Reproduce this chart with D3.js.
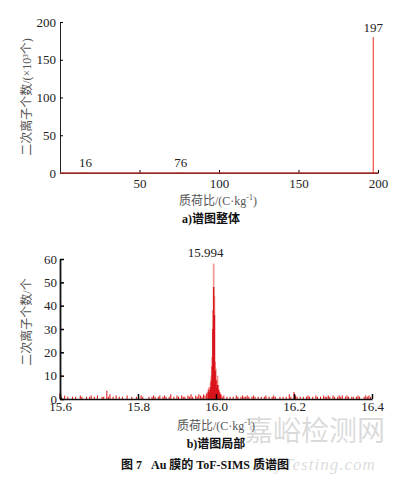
<html>
  <head>
    <style>
      body { margin: 0; background: #fff; }
      svg text { font-family: "Liberation Serif", "Noto Sans CJK SC", serif; }
      .tick text { font-size: 13px; fill: #222; }
      .lbl { font-size: 12px; fill: #555; }
      .cap { font-size: 12px; font-weight: bold; fill: #111; }
    </style>
  </head>
  <body>
    <svg></svg>
    <script src="https://d3js.org/d3.v7.min.js"></script>
    <script>
      let width = 397,
        height = 479;

      let svg = d3.select("svg").attr("width", width).attr("height", height);

      // chart a: whole spectrum
      let fullMz = [16, 76, 197];
      let fullCount = [1.2, 0.8, 180];
      let fullTicksX = [50, 100, 150, 200];
      let fullTicksY = [0, 50, 100, 150, 200];

      // chart b: local spectrum, noise bins every 0.004 from 15.6
      let noiseStart = 15.6,
        noiseStep = 0.004;
      let noiseCount = [
        2.5, 1, 0, 1.5, 0, 1, 0, 0, 1, 0, 1, 0, 0, 1.5, 1, 0, 0, 1, 0, 1,
        1.5, 0, 1, 0, 1.5, 0, 0, 1, 1, 0, 3.5, 1, 2, 0, 1, 0, 1.5, 0, 1, 0,
        1, 0, 0, 1.5, 0, 0, 1, 0, 0, 1, 0, 0, 1.5, 1, 0, 0, 0, 1, 0, 1,
        1.5, 1, 0, 1, 1.5, 0, 1, 1.5, 1, 0, 1, 2, 0, 1, 0, 1.5, 1, 0, 1.5, 1,
        1, 0, 1.5, 1, 2, 1, 0, 1.5, 1, 2, 1.5, 1, 2, 1.5, 2.5, 2, 3, 2, 1.5, 2,
        2, 1.5, 2, 1.5, 1, 1.5, 0, 1, 0, 1, 0, 1, 0, 1.5, 1, 0, 1, 1.5, 1, 1,
        1.5, 1, 0, 1, 1.5, 1, 0, 1, 0, 1, 0, 1, 1.5, 0, 1, 0, 1, 1.5, 1, 0,
        0, 1, 0, 1, 0, 1, 0, 2, 1, 0, 3, 1.5, 1, 0, 1, 0, 1, 0, 1, 1.5,
        1, 0, 1, 0, 1.5, 1, 0, 1, 0, 1.5, 1, 1, 1.5, 1, 0, 1.5, 1, 0, 1, 1.5,
        1, 1.5, 0, 1, 1.5, 1, 0, 1, 1, 0, 1, 1.5, 1, 0, 0, 1, 1.5, 1, 1.5, 1,
      ];
      let peakMz = [15.98, 15.982, 15.984, 15.986, 15.988, 15.99, 15.992, 15.994, 15.996,
        15.998, 16.0, 16.002, 16.004, 16.006, 16.008, 16.01, 16.012];
      let peakDark = [3, 4, 2, 5, 8, 14, 30, 48, 36, 12, 8, 5, 6, 4, 3, 2, 2];
      let peakLight = [4, 5, 3, 7, 10, 18, 38, 58, 44, 16, 13, 8, 10, 6, 4, 3, 2];
      let localTicksX = [15.6, 15.8, 16.0, 16.2, 16.4];
      let localTicksY = [0, 10, 20, 30, 40, 50, 60];

      // ---- chart a
      let xa = d3.scaleLinear().domain([0, 200]).range([60, 378]);
      let ya = d3.scaleLinear().domain([0, 200]).range([173, 22]);

      svg
        .append("g")
        .attr("transform", "translate(0,173)")
        .call(d3.axisBottom(xa).tickValues(fullTicksX).tickSizeInner(-3).tickSizeOuter(0).tickPadding(6))
        .call((g) => g.select(".domain").attr("stroke", "#222"));
      svg
        .append("g")
        .attr("transform", "translate(60,0)")
        .call(d3.axisLeft(ya).tickValues(fullTicksY).tickSizeInner(-3).tickSizeOuter(0).tickPadding(4))
        .call((g) => g.select(".domain").attr("stroke", "#222"));

      // baseline of spectrum
      svg
        .append("line")
        .attr("x1", xa(0))
        .attr("x2", xa(200))
        .attr("y1", ya(0))
        .attr("y2", ya(0))
        .attr("stroke", "#b0302a")
        .attr("stroke-width", 1.3);

      svg
        .append("g")
        .selectAll("line")
        .data(fullMz)
        .enter()
        .append("line")
        .attr("x1", (d) => xa(d))
        .attr("x2", (d) => xa(d))
        .attr("y1", ya(0))
        .attr("y2", (d, i) => ya(fullCount[i]))
        .attr("stroke", "#e8281e")
        .attr("stroke-width", 1);

      svg
        .append("g")
        .selectAll("text")
        .data(fullMz)
        .enter()
        .append("text")
        .attr("x", (d) => xa(d))
        .attr("y", (d, i) => ya(fullCount[i]) - 5)
        .attr("text-anchor", "middle")
        .attr("font-size", "13px")
        .attr("fill", "#222")
        .text((d) => d);

      svg
        .append("text")
        .attr("class", "lbl")
        .attr("transform", "translate(31,97) rotate(-90)")
        .attr("text-anchor", "middle")
        .text("二次离子个数/(×10³个)");
      svg
        .append("text")
        .attr("class", "lbl")
        .attr("x", 218)
        .attr("y", 205)
        .attr("text-anchor", "middle")
        .html('质荷比/(C·kg<tspan dy="-5" font-size="8px">-1</tspan><tspan dy="5">)</tspan>');
      svg
        .append("text")
        .attr("class", "cap")
        .attr("x", 211)
        .attr("y", 223)
        .attr("text-anchor", "middle")
        .text("a)谱图整体");

      // ---- chart b
      let xb = d3.scaleLinear().domain([15.6, 16.4]).range([60, 372]);
      let yb = d3.scaleLinear().domain([0, 60]).range([399, 259]);

      let noise = noiseCount.map((c, i) => ({ mz: noiseStart + i * noiseStep, c: c }));

      svg
        .append("g")
        .selectAll("line")
        .data(noise.filter((d) => d.c > 0))
        .enter()
        .append("line")
        .attr("x1", (d) => xb(d.mz))
        .attr("x2", (d) => xb(d.mz))
        .attr("y1", yb(0))
        .attr("y2", (d) => yb(d.c))
        .attr("stroke", "#e02020")
        .attr("stroke-width", 1.1);

      svg
        .append("g")
        .selectAll("line")
        .data(peakMz)
        .enter()
        .append("line")
        .attr("x1", (d) => xb(d))
        .attr("x2", (d) => xb(d))
        .attr("y1", yb(0))
        .attr("y2", (d, i) => yb(peakLight[i]))
        .attr("stroke", "rgba(235,80,70,0.6)")
        .attr("stroke-width", 1.6);
      svg
        .append("g")
        .selectAll("line")
        .data(peakMz)
        .enter()
        .append("line")
        .attr("x1", (d) => xb(d))
        .attr("x2", (d) => xb(d))
        .attr("y1", yb(0))
        .attr("y2", (d, i) => yb(peakDark[i]))
        .attr("stroke", "#d8141c")
        .attr("stroke-width", 1.4);

      svg
        .append("g")
        .attr("transform", "translate(0,399)")
        .call(d3.axisBottom(xb).tickValues(localTicksX).tickFormat(d3.format(".1f")).tickSizeInner(-5).tickSizeOuter(0).tickPadding(3))
        .call((g) => g.select(".domain").attr("stroke", "#111").attr("stroke-width", 1.5))
        .call((g) => g.selectAll(".tick line").attr("stroke-width", 1.5));
      svg
        .append("g")
        .attr("transform", "translate(60,0)")
        .call(d3.axisLeft(yb).tickValues(localTicksY).tickSizeInner(-4).tickSizeOuter(0).tickPadding(3))
        .call((g) => g.select(".domain").attr("stroke", "#111").attr("stroke-width", 1.8))
        .call((g) => g.selectAll(".tick line").attr("stroke-width", 1.5));

      svg
        .append("text")
        .attr("x", xb(15.994) - 8)
        .attr("y", 257)
        .attr("text-anchor", "middle")
        .attr("font-size", "13px")
        .attr("fill", "#222")
        .text("15.994");

      svg
        .append("text")
        .attr("class", "lbl")
        .attr("transform", "translate(31,322) rotate(-90)")
        .attr("text-anchor", "middle")
        .text("二次离子个数/个");
      svg
        .append("text")
        .attr("class", "lbl")
        .attr("x", 216)
        .attr("y", 430)
        .attr("text-anchor", "middle")
        .html('质荷比/(C·kg<tspan dy="-5" font-size="8px">-1</tspan><tspan dy="5">)</tspan>');
      svg
        .append("text")
        .attr("class", "cap")
        .attr("x", 216)
        .attr("y", 448)
        .attr("text-anchor", "middle")
        .text("b)谱图局部");

      // watermark
      svg
        .append("text")
        .attr("x", 315)
        .attr("y", 441)
        .attr("text-anchor", "middle")
        .attr("font-family", "Noto Sans CJK SC")
        .attr("font-size", "28px")
        .attr("fill", "rgba(150,150,150,0.35)")
        .text("嘉峪检测网");
      svg
        .append("text")
        .attr("x", 315)
        .attr("y", 470)
        .attr("text-anchor", "middle")
        .attr("font-family", "DejaVu Sans")
        .attr("font-style", "italic")
        .attr("font-size", "17px")
        .attr("letter-spacing", "1px")
        .attr("fill", "rgba(150,150,150,0.35)")
        .text("AnyTesting.com");

      svg
        .append("text")
        .attr("class", "cap")
        .attr("x", 205)
        .attr("y", 469)
        .attr("text-anchor", "middle")
        .attr("xml:space", "preserve")
        .text("图 7   Au 膜的 ToF-SIMS 质谱图");
    </script>
  </body>
</html>
